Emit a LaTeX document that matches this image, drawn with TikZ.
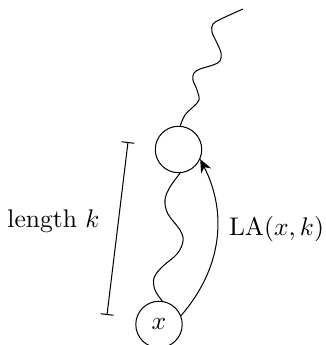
\documentclass[tikz,border=0pt]{standalone}
\usetikzlibrary{arrows.meta}
\begin{document}
\begin{tikzpicture}[x=0.392pt,y=-0.392pt,
  vert/.style={circle,draw,minimum size=18.2pt,inner sep=0pt},
  wave/.style={line join=round},
  lbl/.style={inner sep=0pt}]
\useasboundingbox (0,0) rectangle (326,345);
\node[vert] (x) at (159,324.5) {$x$};
\node[vert] (y) at (178.5,149.5) {};
\coordinate (tail) at (243,9);
\coordinate (b1) at (128,142);
\coordinate (b2) at (107,315);
% upper wave
\draw[wave] plot[smooth,tension=0.6] coordinates {(y.86) (185,115) (193,107) (199,100) (197,90) (193,80) (194,73) (200,69) (213,65) (220,61) (221,53) (217,43) (212,32) (213,24) (221,19) (tail)};
% middle wave
\draw[wave] plot[smooth,tension=0.6] coordinates {(y.-86) (170,187) (165,200) (168,214) (180,230) (183,241) (177,254) (162,267) (154,278) (155,290) (x.82)};
% LA arrow
\draw[-{Stealth[length=5.2pt,width=4.4pt]}] (x.22) to[bend right=34] (y.-24);
\node[lbl] (la) at (276.5,229) {$\mathrm{LA}(x,k)$};
% length bar
\draw[{Bar[width=5pt]}-{Bar[width=5pt]}] (b1) -- (b2);
\node[lbl] (len) at (53.5,221) {length $k$};
\end{tikzpicture}
\end{document}
